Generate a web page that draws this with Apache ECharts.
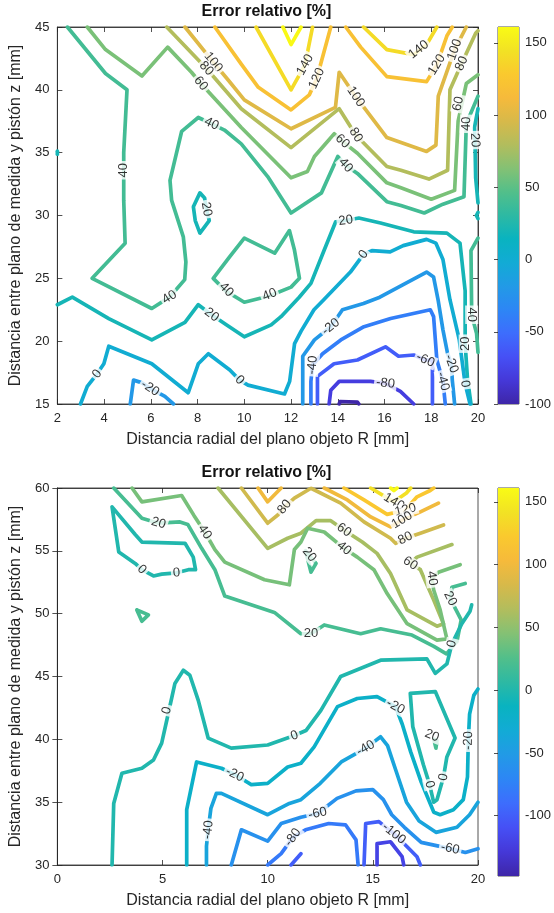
<!DOCTYPE html>
<html><head><meta charset="utf-8">
<script src="https://cdn.jsdelivr.net/npm/echarts@6/dist/echarts.min.js"></script>
<style>html,body{margin:0;padding:0;background:#fff}#c{width:554px;height:913px}</style>
</head><body><div id="c"></div>
<script>
// ---------------- DATA ----------------
const titleText = 'Error relativo [%]';
const xName = 'Distancia radial del plano objeto R [mm]';
const yName = 'Distancia entre plano de medida y pistón z [mm]';
const topX = [2, 20, 2];      // min, max, step
const topY = [15, 45, 5];
const botX = [0, 20, 5];
const botY = [30, 60, 5];
const topCRange = [-100, 161];
const botCRange = [-148, 161];
const cbarTicks = [-100, -50, 0, 50, 100, 150];

// Top plot contour polylines [R, z]
const t160 = [[11.65,45],[12,43.6],[12.43,45]];
const t140a = [[10.5,45],[12,40.0],[12.6,42.0],[12.92,45]];
const t140b = [[15.1,45],[16.1,43.2],[17.25,42.8],[17.8,43.6],[18.24,45]];
const t120a = [[8.74,45],[9.87,42.05],[10.6,40.2],[12,38.4],[12.78,39.6],[13.1,40.9],[13.7,45]];
const t120b = [[14.34,45],[14.98,43.4],[16.1,41.05],[17.8,40.65],[18.24,42.0],[18.67,44.3],[18.9,45]];
const t100 = [[7.46,45],[8.67,42.2],[9.3,40.8],[10.0,39.2],[12,36.9],[13.9,38.6],[14.06,41.4],[14.77,39.45],[16.1,36.2],[17.8,35.1],[18.2,35.6],[18.3,39.5],[19.0,43.2],[19.5,45]];
const t80 = [[6.68,45],[8.38,41.7],[9.87,38.5],[12,35.4],[14.06,38.5],[14.77,36.4],[16.1,33.9],[16.7,33.6],[17.9,32.9],[18.7,33.6],[18.8,40.0],[19.3,42.1],[19.9,44.5],[20,44.7]];
const t60 = [[3.28,45],[4.06,43.2],[5.62,41.1],[6.72,43.4],[7.74,41.4],[8.14,40.5],[9.87,37.0],[12,33.0],[12.7,33.5],[13.0,34.7],[13.85,36.5],[14.2,35.9],[14.84,34.95],[16.1,32.6],[16.7,32.2],[18.0,31.3],[19.0,32.0],[19.15,37.5],[19.5,40.5],[20,41.2]];
const t40a = [[2.43,45],[4.06,41.3],[4.98,40.0],[4.84,35],[4.84,31.2],[4.9,27.8],[3.49,25.0],[6.04,22.6],[6.8,23.5],[7.45,24.9],[7.5,26.3],[7.39,28.3],[6.89,31.2],[6.82,32.8],[7.32,36.7],[8.03,37.8],[8.6,37.3],[9.15,36.8],[9.87,35.7],[11.0,33.1],[12,30.2],[13.3,31.8],[14.0,34.7],[14.34,34.0],[14.84,33.35],[16.1,31.1],[16.7,30.8],[17.7,30.2],[18.5,30.9],[19.4,31.5],[19.5,37.3],[20,39.5]];
const t40b = [[8.67,25.0],[9.37,26.7],[10.0,28.2],[11.3,27.0],[11.93,28.8],[12.14,27.3],[12.36,25.0],[12.0,24.3],[11.06,23.6],[10.0,23.1],[9.2,24.0],[8.67,25.0]];
const t40c = [[20,28.2],[19.7,27.2],[19.73,22.1],[19.94,20.6],[20,19.1]];
const t20a = [[2,22.9],[2.64,23.5],[4.2,21.8],[6.04,20.1],[7.46,21.5],[8.03,22.9],[8.6,22.1],[9.23,21.3],[10.0,20.35],[11.15,21.3],[11.57,21.95],[12.35,23.5],[12.85,24.6],[13.42,27.25],[13.91,29.5],[14.34,29.6],[14.9,29.8],[15.83,29.4],[17.25,28.7],[18.67,28.6],[19.23,27.8],[19.45,24],[19.45,19.8],[19.55,17],[19.7,15]];
const t20b = [[20,38.5],[19.85,37],[19.87,36],[19.9,33],[20,31]];
const t20c = [[7.82,30.7],[8.1,31.8],[8.3,31.4],[8.38,30.5],[8.5,29.6],[8.1,28.6],[7.9,29.6],[7.82,30.7]];
const t20d = [[2,35.12],[2.06,35],[2,34.88]];
const t20e = [[20,30.25],[19.93,30],[20,29.75]];
const t0 = [[2.99,15],[3.28,16.4],[3.49,16.9],[3.7,17.4],[3.99,18.2],[4.2,19.6],[6.04,18.2],[7.6,15.9],[8.03,18.2],[8.46,19.0],[9.38,17.7],[9.8,16.9],[10.16,16.5],[11.72,15.8],[11.94,16.8],[12.15,19.8],[12.43,20.8],[12.98,22.5],[13.4,23.3],[14.54,25.5],[15.1,26.9],[15.46,27.2],[16.24,27.1],[16.8,27.6],[17.8,28.1],[18.2,27.8],[18.5,26.5],[18.8,23.3],[19.2,20.1],[19.45,16.6],[19.66,15]];
const tm20a = [[5.12,15],[5.26,16.9],[5.6,16.7],[5.97,16.25],[6.6,15.6],[6.97,15]];
const tm20b = [[12.5,15],[12.5,18.8],[13.0,20.1],[13.7,21.15],[14.2,22.5],[15.1,23.0],[15.8,23.5],[17.8,25.5],[18.1,25.1],[18.3,23.2],[18.5,20.9],[18.7,19.0],[18.86,18.2],[18.9,16.9],[19.0,15]];
const tm40 = [[12.85,15],[12.85,16.8],[12.92,18.1],[13.35,19.0],[14.13,20.1],[15.12,21.15],[16.26,21.8],[17.96,22.5],[18.1,21.95],[18.24,18.5],[18.5,16.8],[18.6,15]];
const tm60 = [[13.13,15],[13.13,17.2],[13.84,18.2],[14.84,18.5],[16.04,19.55],[16.6,18.8],[17.25,18.9],[17.75,18.5],[18.05,18.5],[18.05,15]];
const tm80 = [[13.63,15],[13.7,16.1],[14.06,16.8],[15.4,16.8],[16.04,16.65],[16.68,16.0],[17.25,15]];
const tm100 = [[14.06,15],[14.1,15.2],[14.84,15.15],[14.9,15]];

// Bottom plot contour polylines [R, z]
const b160 = [[15.85,60],[16.0,59.8],[16.15,60]];
const b140 = [[14.9,60],[15.6,59.3],[16.0,58.9],[16.6,59.6],[16.8,60]];
const b120 = [[13.63,60],[14.58,59.05],[15.68,57.9],[16.55,58.25],[17.1,59.3],[17.73,59.8],[17.9,60]];
const b100a = [[9.54,60],[10.0,58.9],[10.64,60]];
const b100b = [[12.69,60],[13.79,59.05],[14.9,57.7],[15.84,56.9],[16.39,57.45],[17.26,58.1],[18.12,58.8]];
const b80 = [[8.75,60],[10.0,57.2],[10.48,57.85],[10.8,58.5],[11.27,59.2],[12.06,59.98],[13.47,58.8],[14.58,57.3],[15.84,56.0],[16.08,55.6],[16.55,56.0],[17.26,56.4],[18.36,57.06]];
const b60 = [[7.64,60],[10.0,55.2],[10.95,56.0],[11.58,56.4],[12.3,57.4],[13.0,57.4],[13.63,56.65],[14.5,55.7],[15.2,54.8],[15.84,53.2],[16.63,50.3],[18.05,49.0],[18.36,49.2],[17.89,51.1],[17.26,53.5],[16.78,54.0],[17.1,54.5],[18.76,55.5]];
const b40 = [[3.55,60],[4.02,58.9],[5.91,59.4],[6.5,57.8],[7.01,56.5],[7.49,55.1],[7.96,54.1],[9.85,52.7],[11.03,52.3],[11.27,55.1],[11.58,55.7],[11.9,56.8],[12.69,56.5],[13.63,55.2],[14.26,54.5],[15.05,53.5],[15.68,51.6],[16.63,49.2],[18.05,47.9],[18.52,48.0],[18.2,50.3],[17.89,51.9],[17.81,52.8],[18.12,53.3],[19.15,53.9]];
const b20a = [[2.68,60],[4.02,57.6],[4.81,57.2],[5.83,57.3],[6.2,57.1],[6.86,55.2],[7.49,53.5],[7.96,51.4],[10.32,50.1],[11.58,48.4],[12.06,48.4],[12.69,49.1],[14.42,48.4],[15.37,48.8],[16.86,48.3],[17.9,47.4],[18.5,46.8],[19.0,47.8],[19.2,49.5],[18.68,51.2],[18.76,52.1],[19.39,52.4]];
const b20b = [[3.78,50.3],[4.33,49.9],[4.02,49.4],[3.78,50.3]];
const b20c = [[11.8,55.0],[12.06,53.3],[12.3,54.0],[12.0,54.6],[11.8,55.0]];
const b20d = [[17.9,40.0],[18.05,39.9],[18.0,39.3],[17.9,40.0]];
const b0a = [[2.6,58.5],[2.92,54.9],[3.7,54.0],[4.02,53.5],[4.57,53.0],[4.96,53.15],[5.67,53.25],[6.23,53.5],[6.57,53.5],[6.46,54.5],[6.07,55.6],[4.02,55.7],[3.7,56.3],[2.6,58.5]];
const b0b = [[2.6,30],[2.68,34.9],[3.07,37.3],[4.02,37.7],[4.57,38.35],[4.96,39.7],[5.2,41.5],[5.59,44.45],[5.99,45.5],[6.3,45.1],[6.7,43.1],[7.17,40.1],[8.27,39.3],[10.0,39.55],[11.27,40.3],[11.82,40.7],[12.53,42.3],[13.47,45.0],[15.37,46.3],[17.57,46.4],[17.97,45.25],[18.52,46.0],[18.76,47.6],[19.23,49.2],[19.62,50.2],[19.7,50.7]];
const b0c = [[16.78,43.65],[17.97,43.8],[18.91,40.1],[18.52,38.6],[18.36,37.0],[18.05,35.2],[17.89,35.0],[17.7,36.4],[17.4,38.0],[16.9,41.0],[16.78,43.65]];
const bm20 = [[6.15,30],[6.15,34.4],[6.62,38.2],[7.8,37.7],[8.43,37.2],[9.22,36.4],[10.0,36.5],[10.95,37.8],[11.58,38.1],[12.21,39.4],[13.32,42.6],[14.26,43.25],[15.2,43.4],[16.08,42.6],[16.4,41.2],[16.8,39.0],[17.3,36.6],[17.9,34.2],[18.2,34.0],[18.83,34.4],[19.3,35.2],[19.5,37],[19.54,39.9],[19.6,42],[19.8,43.5],[20,44]];
const bm40 = [[7.09,30],[7.09,31.5],[7.17,32.8],[7.3,34.5],[7.56,35.7],[7.8,35.7],[10.0,34.0],[11.03,34.9],[11.58,35.2],[12.5,36.5],[13.5,38.2],[14.66,39.3],[15.37,40.2],[15.7,39.5],[16.1,37.5],[16.6,35.0],[17.2,33.5],[18.0,32.6],[19.0,33.0],[19.6,34.0],[20,35]];
const bm60 = [[8.27,30],[8.75,32.8],[10.0,31.9],[10.64,33.3],[11.58,33.8],[12.37,34.1],[13.3,35.3],[14.2,35.9],[15.0,36.0],[15.5,35.2],[15.9,34.0],[16.5,33.0],[17.3,31.8],[18.68,31.3],[19.4,31.0],[20,31.3]];
const bm80 = [[10.0,30],[10.64,30.9],[11.2,32.2],[11.8,32.8],[12.9,33.3],[13.7,33.2],[14.2,32.0],[14.3,30]];
const bm100a = [[14.58,30],[14.66,33.3],[15.29,33.45],[16.0,32.5],[16.63,31.45],[17.1,30.66],[17.26,30]];
const bm100b = [[11.11,30],[11.58,30.9]];
const bm120 = [[15.2,30],[15.2,31.7],[15.84,31.85],[16.39,30.66],[16.47,30]];

// Inline contour labels [R, z, text]
const topLabels = [
  [12.6,42.0,'140'],[17.46,43.2,'140'],[13.1,40.9,'120'],[18.24,42.0,'120'],
  [8.67,42.2,'100'],[14.77,39.45,'100'],[19.0,43.2,'100'],
  [8.38,41.7,'80'],[14.77,36.4,'80'],[19.3,42.1,'80'],
  [8.14,40.5,'60'],[14.2,35.9,'60'],[19.16,38.9,'60'],
  [4.84,33.6,'40'],[8.6,37.3,'40'],[6.8,23.5,'40'],[9.23,24.1,'40'],[11.08,23.7,'40'],[14.34,34.0,'40'],[19.5,37.3,'40'],[19.73,22.1,'40'],
  [8.38,30.5,'20'],[8.6,22.1,'20'],[14.34,29.6,'20'],[19.87,36.0,'20'],[19.45,19.8,'20'],
  [3.7,17.4,'0'],[9.8,16.9,'0'],[15.1,26.9,'0'],[19.45,16.6,'0'],
  [5.97,16.25,'-20'],[13.7,21.15,'-20'],[18.86,18.2,'-20'],
  [12.92,18.1,'-40'],[18.5,16.8,'-40'],[17.75,18.5,'-60'],[16.04,16.65,'-80']
];
const botLabels = [
  [16.0,58.9,'140'],[16.55,58.25,'120'],[16.39,57.45,'100'],[16.55,56.0,'80'],[10.8,58.5,'80'],
  [13.63,56.65,'60'],[16.78,54.0,'60'],
  [7.01,56.5,'40'],[13.63,55.2,'40'],[17.81,52.8,'40'],
  [4.81,57.2,'20'],[12.06,48.4,'20'],[11.98,54.7,'20'],[18.68,51.2,'20'],[17.81,40.3,'20'],
  [4.02,53.5,'0'],[5.67,53.25,'0'],[5.2,42.3,'0'],[11.27,40.3,'0'],[18.76,47.6,'0'],[18.36,37.0,'0'],[17.7,36.4,'0'],
  [8.43,37.2,'-20'],[16.08,42.6,'-20'],[19.54,39.9,'-20'],
  [7.17,32.8,'-40'],[14.66,39.3,'-40'],
  [12.37,34.1,'-60'],[18.68,31.3,'-60'],[11.2,32.2,'-80'],[16.0,32.5,'-100']
];

const topContours = [[160,t160],[140,t140a],[140,t140b],[120,t120a],[120,t120b],[100,t100],[80,t80],[60,t60],
  [40,t40a],[40,t40b],[40,t40c],[20,t20a],[20,t20b],[20,t20c],[20,t20d],[20,t20e],[0,t0],
  [-20,tm20a],[-20,tm20b],[-40,tm40],[-60,tm60],[-80,tm80],[-100,tm100]];
const botContours = [[160,b160],[140,b140],[120,b120],[100,b100a],[100,b100b],[80,b80],[60,b60],[40,b40],
  [20,b20a],[20,b20b],[20,b20c],[20,b20d],[0,b0a],[0,b0b],[0,b0c],
  [-20,bm20],[-40,bm40],[-60,bm60],[-80,bm80],[-100,bm100a],[-100,bm100b],[-120,bm120]];

// ---------------- STYLE ----------------
const PARULA = ['#3E26A8','#4538D8','#4650F5','#3D6DFD','#2D86F5','#229AE6','#12ABD5','#09B3C0','#2DB9A3','#52BF8A','#84C174','#B2BD5D','#D7B94A','#F6BA3B','#FAC92E','#F2E224','#F9FB15'];
function hex2rgb(h){return [parseInt(h.slice(1,3),16),parseInt(h.slice(3,5),16),parseInt(h.slice(5,7),16)];}
function parula(t){
  t=Math.max(0,Math.min(1,t));
  const n=PARULA.length-1, f=t*n, i=Math.min(n-1,Math.floor(f)), u=f-i;
  const a=hex2rgb(PARULA[i]), b=hex2rgb(PARULA[i+1]);
  return 'rgb('+a.map((v,k)=>Math.round(v+(b[k]-v)*u)).join(',')+')';
}
const FONT='Liberation Sans, Arial, Helvetica, sans-serif';
const AX='#262626';
const LW=3.7;
const NAMEFS=16;

function axisBase(r, show){
  return {type:'value', min:r[0], max:r[1], interval:r[2],
    axisLine:{show:true, lineStyle:{color:AX,width:0.8}},
    axisTick:{show:true, inside:true, length:5, lineStyle:{color:AX,width:0.8}},
    axisLabel:{show:show, color:AX, fontSize:13, fontFamily:FONT, margin:8},
    splitLine:{show:false}};
}
const grids=[
  {left:55, top:27, width:423, height:377, show:true, borderColor:AX, borderWidth:0.8},
  {left:498, top:27, width:25, height:377, show:true, borderColor:AX, borderWidth:0.8},
  {left:55, top:488, width:423, height:377, show:true, borderColor:AX, borderWidth:0.8},
  {left:498, top:488, width:25, height:388, show:true, borderColor:AX, borderWidth:0.8}
];
function cbarY(range, gi){
  return {type:'value', gridIndex:gi, position:'right', min:range[0], max:range[1],
    axisLine:{show:false},
    axisTick:{show:true, inside:true, length:4, customValues:cbarTicks, lineStyle:{color:AX,width:0.8}},
    axisLabel:{show:true, customValues:cbarTicks, color:AX, fontSize:13, fontFamily:FONT, margin:6},
    splitLine:{show:false}};
}
const nameStyle={color:AX,fontSize:NAMEFS,fontFamily:FONT};
const xAxes=[
  Object.assign(axisBase(topX,true),{gridIndex:0, position:'bottom', name:xName, nameLocation:'middle', nameGap:28, nameTextStyle:nameStyle}),
  Object.assign(axisBase(topX,false),{gridIndex:0, position:'top'}),
  {type:'value', gridIndex:1, min:0, max:1, show:false},
  Object.assign(axisBase(botX,true),{gridIndex:2, position:'bottom', name:xName, nameLocation:'middle', nameGap:28, nameTextStyle:nameStyle}),
  Object.assign(axisBase(botX,false),{gridIndex:2, position:'top'}),
  {type:'value', gridIndex:3, min:0, max:1, show:false}
];
const yAxes=[
  Object.assign(axisBase(topY,true),{gridIndex:0, position:'left', name:yName, nameLocation:'middle', nameGap:29, nameTextStyle:nameStyle}),
  Object.assign(axisBase(topY,false),{gridIndex:0, position:'right'}),
  cbarY(topCRange,1),
  Object.assign(axisBase(botY,true),{gridIndex:2, position:'left', name:yName, nameLocation:'middle', nameGap:29, nameTextStyle:nameStyle}),
  Object.assign(axisBase(botY,false),{gridIndex:2, position:'right'}),
  cbarY(botCRange,3)
];

const series=[];
function addContours(list, xi, yi, range){
  list.forEach(([lev, pts])=>{
    series.push({type:'line', xAxisIndex:xi, yAxisIndex:yi, data:pts, showSymbol:false, symbol:'none',
      lineStyle:{color:parula((lev-range[0])/(range[1]-range[0])), width:LW, cap:'round', join:'round'},
      silent:true, animation:false, clip:true, z:2});
  });
}
addContours(topContours,0,0,topCRange);
addContours(botContours,3,3,botCRange);

function labelSeries(id, labels, xi, yi){
  return {id:id, type:'scatter', xAxisIndex:xi, yAxisIndex:yi, symbolSize:0, silent:true, animation:false, z:5,
    data: labels.map(l=>({value:[l[0],l[1]], label:{formatter:l[2], rotate:0}})),
    label:{show:true, position:'inside', color:'#000', fontSize:13, fontFamily:FONT, backgroundColor:'#fff', padding:[0,2], lineHeight:13}};
}
series.push(labelSeries('labTop', topLabels, 0, 0));
series.push(labelSeries('labBot', botLabels, 3, 3));

function cbarSeries(range, xi, yi){
  const stops = PARULA.map((c,i)=>({offset:i/(PARULA.length-1), color:c}));
  return {type:'custom', xAxisIndex:xi, yAxisIndex:yi, silent:true, animation:false,
    data:[[0, range[0], 1, range[1]]],
    encode:{x:[0,2], y:[1,3]},
    renderItem:function(params, api){
      const p0=api.coord([api.value(0), api.value(1)]);
      const p1=api.coord([api.value(2), api.value(3)]);
      return {type:'rect', shape:{x:p0[0], y:p1[1], width:p1[0]-p0[0], height:p0[1]-p1[1]},
        style:{fill:new echarts.graphic.LinearGradient(0,1,0,0,stops)}};
    }};
}
series.push(cbarSeries(topCRange,2,2));
series.push(cbarSeries(botCRange,5,5));

const option={
  animation:false, backgroundColor:'#fff',
  grid:grids, xAxis:xAxes, yAxis:yAxes, series:series,
  graphic:[
    {type:'text', x:266.5, y:12, style:{text:titleText, font:'bold '+NAMEFS+'px '+FONT, fill:'#111', textAlign:'center', textVerticalAlign:'middle'}},
    {type:'text', x:266.5, y:473, style:{text:titleText, font:'bold '+NAMEFS+'px '+FONT, fill:'#111', textAlign:'center', textVerticalAlign:'middle'}}
  ]
};
const chart=echarts.init(document.getElementById('c'), null, {renderer:'canvas', width:554, height:913});
chart.setOption(option);

// orient inline labels along their contour (computed in pixel space)
function orient(labels, contours, xi, yi){
  const f={xAxisIndex:xi, yAxisIndex:yi};
  return labels.map(l=>{
    const lev=parseFloat(l[2]);
    const P=chart.convertToPixel(f,[l[0],l[1]]);
    let best=1e9, ang=0;
    contours.forEach(([lv,pts])=>{
      if(lv!==lev) return;
      const px=pts.map(p=>chart.convertToPixel(f,p));
      for(let i=0;i<px.length-1;i++){
        const A=px[i],B=px[i+1];
        const dx=B[0]-A[0], dy=B[1]-A[1], L2=dx*dx+dy*dy||1e-9;
        let t=((P[0]-A[0])*dx+(P[1]-A[1])*dy)/L2; t=Math.max(0,Math.min(1,t));
        const qx=A[0]+t*dx-P[0], qy=A[1]+t*dy-P[1], d=qx*qx+qy*qy;
        if(d<best){best=d; let a=Math.atan2(-dy,dx)*180/Math.PI; if(a>90)a-=180; if(a<=-90)a+=180; ang=a;}
      }
    });
    return {value:[l[0],l[1]], label:{formatter:l[2], rotate:ang}};
  });
}
chart.setOption({series:[{id:'labTop', data:orient(topLabels, topContours,0,0)},{id:'labBot', data:orient(botLabels, botContours,3,3)}]});
</script></body></html>
